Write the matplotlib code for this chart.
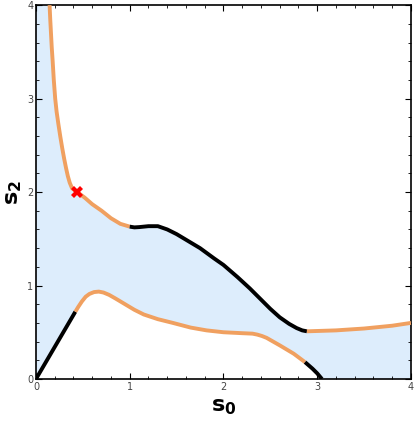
import matplotlib
matplotlib.use("Agg")
import matplotlib.pyplot as plt
from matplotlib.ticker import MultipleLocator

# ─── DATA ────────────────────────────────────────────────────
# upper boundary: orange / black / orange pieces
upper_a_x = [0.145, 0.152, 0.160, 0.168, 0.178, 0.190, 0.205, 0.220, 0.240, 0.260, 0.280, 0.300,
             0.320, 0.340, 0.360, 0.385, 0.440, 0.520, 0.600, 0.700, 0.800, 0.900, 1.000]
upper_a_y = [4.00, 3.85, 3.70, 3.55, 3.40, 3.20, 3.00, 2.86, 2.72, 2.59, 2.47, 2.36,
             2.26, 2.17, 2.10, 2.04, 2.00, 1.94, 1.87, 1.80, 1.72, 1.66, 1.63]
upper_b_x = [1.00, 1.05, 1.10, 1.20, 1.30, 1.40, 1.50, 1.60, 1.75, 1.90, 2.00, 2.15, 2.28,
             2.40, 2.50, 2.60, 2.70, 2.78, 2.84, 2.89]
upper_b_y = [1.63, 1.622, 1.625, 1.635, 1.635, 1.60, 1.55, 1.49, 1.40, 1.29, 1.22, 1.09, 0.97,
             0.85, 0.75, 0.66, 0.59, 0.545, 0.52, 0.51]
upper_c_x = [2.89, 3.20, 3.50, 3.80, 4.00]
upper_c_y = [0.51, 0.52, 0.54, 0.57, 0.60]

# lower boundary: black / orange / black pieces
lower_d_x = [0.00, 0.42]
lower_d_y = [0.00, 0.72]
lower_e_x = [0.42, 0.45, 0.49, 0.53, 0.57, 0.62, 0.67, 0.72, 0.78, 0.85, 0.95, 1.05, 1.15, 1.30,
             1.46, 1.65, 1.82, 2.00, 2.20, 2.31, 2.36, 2.41, 2.46, 2.60, 2.75, 2.87]
lower_e_y = [0.72, 0.77, 0.83, 0.88, 0.91, 0.93, 0.935, 0.925, 0.90, 0.86, 0.80, 0.74, 0.69, 0.64,
             0.60, 0.55, 0.52, 0.50, 0.49, 0.485, 0.475, 0.46, 0.44, 0.36, 0.27, 0.18]
lower_f_x = [2.87, 2.95, 3.00, 3.05]
lower_f_y = [0.18, 0.11, 0.06, 0.00]

marker_x, marker_y = 0.44, 2.0

ORANGE = "#F0A060"
BLACK = "#000000"
FILL = "#DDEDFC"

plt.rcParams["mathtext.fontset"] = "dejavusans"

fig = plt.figure(figsize=(4.15, 4.21), dpi=100)
ax = fig.add_axes([0.0867, 0.0998, 0.9036, 0.888])

# filled region: left edge, lower curve, bottom edge, right edge, upper curve back
lower_x = lower_d_x + lower_e_x[1:] + lower_f_x[1:]
lower_y = lower_d_y + lower_e_y[1:] + lower_f_y[1:]
upper_x = upper_a_x + upper_b_x[1:] + upper_c_x[1:]
upper_y = upper_a_y + upper_b_y[1:] + upper_c_y[1:]
poly_x = lower_x + [4.0] + upper_x[::-1] + [0.0]
poly_y = lower_y + [0.0] + upper_y[::-1] + [4.0]
ax.fill(poly_x, poly_y, color=FILL, lw=0, zorder=1)

lw = 2.8
for xs, ys, c in [(upper_a_x, upper_a_y, ORANGE), (upper_b_x, upper_b_y, BLACK),
                  (upper_c_x, upper_c_y, ORANGE), (lower_d_x, lower_d_y, BLACK),
                  (lower_e_x, lower_e_y, ORANGE), (lower_f_x, lower_f_y, BLACK)]:
    ax.plot(xs, ys, color=c, lw=lw, solid_capstyle="butt", solid_joinstyle="round", zorder=3)

ax.plot(marker_x, marker_y, marker="X", color="red", markersize=8, mew=0, zorder=4)

ax.set_xlim(0, 4)
ax.set_ylim(0, 4)
ax.xaxis.set_major_locator(MultipleLocator(1))
ax.yaxis.set_major_locator(MultipleLocator(1))
ax.xaxis.set_minor_locator(MultipleLocator(0.2))
ax.yaxis.set_minor_locator(MultipleLocator(0.2))
ax.tick_params(which="both", direction="in", top=True, right=True, labelsize=7,
               labelcolor="#444444", pad=2)
ax.tick_params(which="major", length=4, width=0.8)
ax.tick_params(which="minor", length=2, width=0.6)
for s in ax.spines.values():
    s.set_linewidth(1.2)

ax.set_xlabel(r"$\mathbf{s}_\mathbf{0}$", fontsize=16, labelpad=4)
ax.set_ylabel(r"$\mathbf{s}_\mathbf{2}$", fontsize=16, labelpad=2)

fig.savefig("out.png", dpi=100)
